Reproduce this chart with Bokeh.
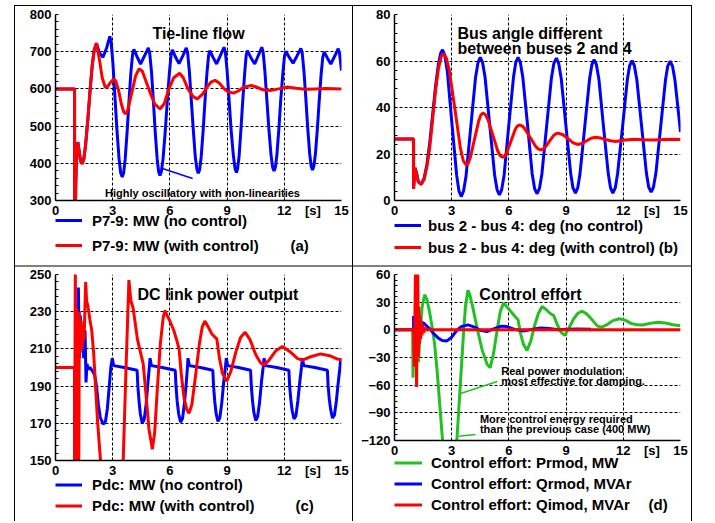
from bokeh.plotting import figure
from bokeh.models import Range1d, FixedTicker, Legend, LegendItem, Label
from bokeh.layouts import column, row
from bokeh.embed import file_html
from bokeh.resources import INLINE

FONT = "Liberation Sans"
BLUE = "#0000ff"
RED = "#ff0000"
GREEN = "#22c022"
NAN = float("nan")

# ---------------- axes / tick labels ----------------
x_ticks = [0, 3, 6, 9, 12, 15]
x_unit_pos = 13.5
x_unit_label = "[s]"
ticks_a = [300, 400, 500, 600, 700, 800]
ticks_b = [0, 20, 40, 60, 80]
ticks_c = [150, 170, 190, 210, 230, 250]
ticks_d = [-120, -90, -60, -30, 0, 30, 60]

# ---------------- (a) tie-line flow ----------------
ta_nc = [0, 1.0, 1.0, 1.06, 1.12, 1.17, 1.25, 1.32, 1.4, 1.48, 1.58, 1.7, 1.82, 1.93, 2.03, 2.15, 2.3, 2.49, 2.68, 2.85, 2.92, 3.01, 3.11, 3.22, 3.33, 3.42, 3.5,
         3.57, 3.65, 3.75, 3.85, 3.95, 4.04, 4.11, 4.28, 4.46, 4.66, 4.87, 4.94, 5.03, 5.13, 5.23, 5.33, 5.41, 5.48,
         5.55, 5.64, 5.75, 5.86, 5.97, 6.06, 6.13, 6.3, 6.48, 6.67, 6.86, 6.93, 7.02, 7.12, 7.23, 7.33, 7.42, 7.49,
         7.56, 7.64, 7.74, 7.84, 7.94, 8.03, 8.09, 8.27, 8.45, 8.64, 8.84, 8.91, 9.0, 9.1, 9.21, 9.33, 9.42, 9.49,
         9.55, 9.63, 9.72, 9.82, 9.92, 10.0, 10.06, 10.25, 10.45, 10.63, 10.82, 10.89, 10.98, 11.08, 11.19, 11.3, 11.39, 11.46,
         11.53, 11.61, 11.71, 11.81, 11.92, 12.01, 12.08, 12.27, 12.46, 12.66, 12.87, 12.94, 13.03, 13.13, 13.23, 13.33, 13.41, 13.48,
         13.55, 13.63, 13.73, 13.83, 13.93, 14.02, 14.09, 14.27, 14.44, 14.63, 14.83, 14.9, 15.0]
va_nc = [600, 600, 285, 350, 430, 457, 430, 405, 399, 410, 450, 520, 600, 665, 705, 723, 697, 685, 710, 741, 726, 670, 585, 492, 414, 374, 363,
         373, 409, 480, 564, 642, 692, 706, 686, 667, 688, 710, 696, 649, 571, 484, 413, 377, 367,
         377, 412, 482, 565, 641, 691, 705, 685, 668, 688, 710, 697, 647, 571, 488, 418, 383, 373,
         383, 417, 486, 567, 641, 690, 703, 684, 667, 689, 712, 699, 649, 573, 490, 420, 385, 375,
         385, 419, 487, 568, 641, 690, 703, 684, 667, 689, 712, 699, 649, 574, 493, 424, 389, 379,
         389, 422, 489, 568, 640, 688, 701, 684, 669, 688, 709, 696, 648, 574, 494, 426, 392, 382,
         392, 424, 490, 568, 639, 686, 699, 682, 667, 687, 708, 695, 649]
ta_wc = [0, 1.0, 1.0, 1.05, 1.1, 1.17, 1.25, 1.32, 1.4, 1.48, 1.58, 1.7, 1.82, 1.93, 2.03, 2.15, 2.3, 2.45, 2.6, 2.68,
         2.85, 3.05, 3.15, 3.3, 3.45, 3.58, 3.68, 3.8, 4.0, 4.2, 4.38, 4.55, 4.75, 5.0, 5.2, 5.48, 5.7, 5.95, 6.2, 6.51,
         6.7, 6.95, 7.2, 7.44, 7.7, 7.95, 8.15, 8.37, 8.6, 8.85, 9.1, 9.36, 9.6, 9.85, 10.27, 10.55, 10.85, 11.32, 11.7, 12.16,
         12.6, 13.1, 13.6, 14.2, 15.0]
va_wc = [600, 600, 285, 290, 420, 457, 430, 405, 399, 410, 450, 520, 600, 665, 705, 723, 680, 630, 606, 603,
         615, 627, 622, 598, 560, 538, 533, 545, 590, 635, 654, 648, 620, 585, 560, 546, 560, 600, 630, 642,
         630, 600, 580, 573, 585, 605, 618, 623, 615, 600, 591, 589, 595, 604, 609, 605, 598, 596, 600, 605,
         602, 599, 600, 601, 600]

# ---------------- (b) bus angle ----------------
tb_nc = [0, 1.0, 1.0, 1.08, 1.15, 1.25, 1.4, 1.55, 1.7, 1.85, 2.0, 2.15, 2.3, 2.42, 2.52,
         2.64, 2.77, 3.01, 3.26, 3.38, 3.5,
         3.62, 3.75, 4.0, 4.25, 4.38, 4.5,
         4.62, 4.75, 5.0, 5.25, 5.38, 5.5,
         5.62, 5.75, 5.99, 6.24, 6.36, 6.48,
         6.6, 6.73, 6.98, 7.22, 7.35, 7.47,
         7.6, 7.73, 7.98, 8.23, 8.36, 8.49,
         8.61, 8.74, 8.99, 9.24, 9.36, 9.49,
         9.61, 9.73, 9.98, 10.23, 10.35, 10.47,
         10.59, 10.72, 10.96, 11.21, 11.33, 11.45,
         11.58, 11.7, 11.96, 12.21, 12.33, 12.46,
         12.58, 12.71, 12.96, 13.21, 13.33, 13.46,
         13.58, 13.71, 13.96, 14.21, 14.33, 14.46,
         14.58, 14.71, 14.85, 15.0]
vb_nc = [26.5, 26.5, 5, 14, 12, 8, 7, 9.5, 15.5, 25, 37, 49, 58.5, 63.3, 64.8,
         62.4, 55.6, 33.3, 10.9, 4.1, 1.7,
         4.0, 10.4, 31.7, 52.9, 59.3, 61.6,
         59.4, 53.0, 32.0, 11.0, 4.6, 2.4,
         4.6, 11.0, 32.0, 53.0, 59.4, 61.6,
         59.4, 53.0, 32.3, 11.5, 5.1, 2.9,
         5.1, 11.4, 32.1, 52.7, 59.0, 61.2,
         59.0, 52.7, 32.2, 11.7, 5.4, 3.2,
         5.4, 11.6, 31.9, 52.2, 58.4, 60.6,
         58.4, 52.2, 31.9, 11.6, 5.4, 3.2,
         5.4, 11.5, 31.7, 51.9, 58.0, 60.2,
         58.0, 51.9, 31.9, 11.9, 5.8, 3.6,
         5.7, 11.8, 31.8, 51.7, 57.8, 59.9,
         57.8, 51.7, 41, 29.4]
tb_wc = [0, 1.0, 1.0, 1.08, 1.15, 1.25, 1.4, 1.55, 1.7, 1.85, 2.0, 2.15, 2.3, 2.45, 2.57,
         2.72, 2.87, 3.17, 3.46, 3.61, 3.76,
         3.87, 3.98, 4.2, 4.42, 4.53, 4.64,
         4.77, 4.9, 5.16, 5.41, 5.54, 5.67,
         5.78, 5.89, 6.11, 6.33, 6.44, 6.55,
         6.69, 6.83, 7.11, 7.39, 7.53, 7.67,
         7.78, 7.9, 8.12, 8.35, 8.47, 8.58,
         8.84, 9.1, 9.37, 9.63,
         9.86, 10.08, 10.31, 10.54,
         10.8, 11.06, 11.33, 11.59,
         12.1, 12.6, 13.1, 13.6, 14.1, 14.6, 15.0]
vb_wc = [26.5, 26.5, 5, 14, 12, 8, 7, 9, 14.5, 23, 35, 47, 56.5, 62, 63.1,
         61.3, 56.1, 39.2, 22.3, 17.1, 15.3,
         16.1, 18.6, 26.5, 34.3, 36.8, 37.6,
         36.9, 34.8, 28.1, 21.4, 19.3, 18.6,
         19.1, 20.6, 25.6, 30.5, 32.0, 32.5,
         32.1, 30.9, 27.2, 23.4, 22.2, 21.8,
         22.1, 22.9, 25.4, 28.0, 28.7, 29.0,
         28.3, 26.6, 24.8, 24.1,
         24.6, 25.7, 26.8, 27.2,
         26.9, 26.3, 25.7, 25.4,
         26.0, 26.3, 26.1, 26.0, 26.2, 26.3, 26.2]

# ---------------- (c) DC link power ----------------
tc_nc = [0, 1.0, 1.0, 1.05, 1.1, 1.15, 1.2, 1.25, 1.3, 1.35, 1.4, 1.48, 1.55, 1.6, 1.65, 1.72, 1.8, 1.95, 2.05, 2.15,
         2.25, 2.35, 2.5, 2.62, 2.72, 2.82, 2.9, 2.98,
         3.05, 3.6, 4.28, 4.32, 4.38, 4.45, 4.55, 4.65, 4.75, 4.85, 4.92, 4.96,
         5.03, 5.6, 6.28, 6.32, 6.38, 6.46, 6.56, 6.66, 6.76, 6.86, 6.92, 6.95,
         7.02, 7.6, 8.25, 8.29, 8.35, 8.42, 8.52, 8.62, 8.72, 8.83, 8.91, 8.96,
         9.03, 9.6, 10.23, 10.27, 10.33, 10.4, 10.5, 10.6, 10.7, 10.81, 10.89, 10.94,
         11.01, 11.6, 12.24, 12.28, 12.34, 12.41, 12.51, 12.61, 12.71, 12.82, 12.9, 12.95,
         13.02, 13.6, 14.26, 14.3, 14.36, 14.43, 14.53, 14.63, 14.73, 14.84, 14.92, 14.96, 15.0]
vc_nc = [200, 200, 140, 180, 215, 175, 243, 205, 228, 212, 222, 205, 220, 192, 202, 199, 200, 198, 196, 190,
         180, 173, 169.5, 171, 178, 190, 200, 205,
         201, 200, 198.5, 190, 182, 175, 170, 172, 180, 192, 200, 205,
         201, 200, 198.5, 190, 182, 175, 170.6, 172.5, 180.5, 192, 200, 205,
         201, 200, 198.5, 190, 182, 175.5, 171, 173, 181, 193, 200, 205,
         201, 200, 198.5, 190, 182.5, 176, 171.5, 173.5, 181, 193, 200, 205,
         201, 200, 198.5, 190, 183, 177, 172.4, 174, 182, 193, 200, 205,
         201, 200, 198.5, 190, 183, 177.5, 172.8, 174.5, 182, 193, 200, 205, 201]
tc_wc = [0, 1.0, 1.0, 1.04, 1.07, 1.1, 1.13, 1.16, 1.19, 1.22, 1.25, 1.3, 1.35, 1.4, 1.45, 1.5, 1.58, 1.63, 1.7, 1.8,
         1.9, 2.0, 2.1, 2.2, 2.3, 2.36, 2.5, 3.0, 3.4, 3.55, 3.7, 3.85, 3.95, 4.07, 4.3, 4.6, 4.75, 4.9, 5.08, 5.2,
         5.35, 5.5, 5.65, 5.74, 5.85, 6.0, 6.2, 6.35, 6.48, 6.6, 6.75, 6.9, 7.0, 7.15, 7.35, 7.55, 7.7, 7.83, 8.0, 8.2,
         8.46, 8.6, 8.75, 8.98, 9.2, 9.45, 9.7, 9.94, 10.2, 10.5, 10.75, 10.94, 11.2, 11.55, 11.9, 12.3, 12.7, 12.95, 13.3, 13.9,
         14.4, 14.8, 15.0]
vc_wc = [200, 200, 140, 255, 140, 232, 150, 228, 205, 145, 230, 208, 225, 210, 222, 215, 246, 236, 233, 226,
         220, 208, 190, 172, 158, 150, 125, 110, 130, 150, 200, 247, 236, 232, 215, 202, 185, 167, 156, 165,
         190, 213, 227, 230.6, 228, 225, 220, 215, 210, 196, 183, 177, 175.4, 180, 196, 213, 222, 225, 222, 218,
         215.4, 205, 197, 192.6, 198, 208, 216, 219, 215, 207, 202.5, 201.4, 204, 209, 211.3, 208.5, 204.8, 204, 205.5, 207.3,
         206.3, 204.5, 204]

# ---------------- (d) control effort ----------------
td_pr = [0, 0.95, 0.97, 1.0, 1.05, 1.1, 1.15, 1.2, 1.26, 1.35, 1.45, 1.58, 1.7, 1.85, 2.0, 2.1, 2.25, 2.4, 2.52, 2.7,
         2.9, 3.1, 3.27, 3.45, 3.6, 3.72, 3.85, 3.95, 4.1, 4.35, 4.6, 4.85, 5.02, 5.2, 5.4, 5.55, 5.72, 5.85, 6.1, 6.3,
         6.48, 6.6, 6.75, 6.95, 7.15, 7.35, 7.55, 7.74, 7.95, 8.15, 8.35, 8.55, 8.75, 8.93, 9.15, 9.4, 9.62, 9.84, 10.1, 10.4,
         10.65, 10.85, 11.1, 11.45, 11.8, 12.1, 12.4, 12.7, 13.0, 13.4, 13.8, 14.2, 14.6, 15.0]
vd_pr = [0, 0, -52, -20, 5, -30, 0, -25, -35, 0, 25, 38, 33, 18, 0, -15, -48, -88, -120, -160,
         -175, -160, -120, -60, -10, 25, 43, 38, 25, 0, -22, -37, -41, -25, 2, 20, 29, 26, 20, 15,
         10.8, -3, -15, -22.4, -12, 5, 18, 25.3, 22, 18, 15.5, 5, -3, -6.1, 2, 12, 18, 20.2, 17, 10,
         4, 2.9, 5, 10, 12, 10.5, 7, 5.4, 5.2, 7, 8.3, 7.5, 5.5, 4.5]
td_qr = [0, 1.0, 1.0, 1.03, 1.06, 1.1, 1.15, 1.2, 1.3, 1.4, 1.5, 1.65, 1.85, 2.05, 2.3, 2.5, 2.75, 3.0, 3.25, 3.5,
         3.85, 4.2, 4.5, 4.85, 5.2, 5.6, 5.9, 6.3, 6.77, 7.2, 7.65, 8.1, 8.6, 9.1, 9.6, 10.3]
vd_qr = [0, 0, 15, 0, 12, 3, 10, 4, 9, 6, 8, 5, 1, -4, -9, -11.5, -12, -8, -1, 3.5,
         5.4, 3, -0.5, -1.8, 1, 4, 3.5, 0.5, -1.4, 0.5, 2, 1.5, 0, 0.5, 1, 0.5]
td_qi = [0, 1.0, 1.04, 1.08, 1.1, 1.13, 1.16, 1.19, 1.22, 1.25, 1.28, 1.31, 1.34, 1.37, 1.4, 1.44, 1.48, 1.53, 1.6, 1.7, 15.0]
vd_qi = [0, 0, -40, 30, 65, -20, -62, 20, 65, -30, 25, -15, 15, -10, 10, -6, 5, -3, 2, 0, 0]

# annotation pointer lines (data coordinates)
ptr_a_t = [5.61, 7.19]
ptr_a_v = [386, 359]
ptr_d1_t = [3.46, 5.39]
ptr_d1_v = [-69, -56]
ptr_d2_t = [3.37, 4.25]
ptr_d2_v = [-115.4, -113.5]

# panel box lines (CSS inset shadows; first listed is painted on top)
SH_A = ("inset 14px 0 0 0 #ffffff, inset 0 5px 0 0 #ffffff, inset 15px 0 0 0 #000000, "
        "inset 0 6px 0 0 #000000, inset -1px 0 0 0 #000000, inset 0 -1px 0 0 #808080")
SH_B = ("inset 0 5px 0 0 #ffffff, inset -1px 0 0 0 #000000, inset 0 6px 0 0 #000000, "
        "inset 0 -1px 0 0 #808080")
SH_C = ("inset 14px 0 0 0 #ffffff, inset 15px 0 0 0 #000000, inset -1px 0 0 0 #000000, "
        "inset 0 1px 0 0 #808080")
SH_D = "inset -1px 0 0 0 #000000, inset 0 1px 0 0 #808080"


def make_panel(width, height, left, right, top, bottom, y_ticks):
    p = figure(width=width, height=height,
               x_range=Range1d(0, 15), y_range=Range1d(y_ticks[0], y_ticks[-1]),
               output_backend="svg", toolbar_location=None,
               min_border_left=left, min_border_right=right,
               min_border_top=top, min_border_bottom=bottom)
    p.border_fill_color = None
    p.background_fill_color = "white"
    p.outline_line_color = None
    p.xaxis.ticker = FixedTicker(ticks=x_ticks + [x_unit_pos])
    p.xaxis.major_label_overrides = {x_unit_pos: x_unit_label}
    p.xgrid.ticker = FixedTicker(ticks=x_ticks)
    step = y_ticks[1] - y_ticks[0]
    minors = [y_ticks[0] + step * k / 5 for k in range(5 * (len(y_ticks) - 1) + 1)]
    p.yaxis.ticker = FixedTicker(ticks=y_ticks, minor_ticks=minors)
    p.ygrid.ticker = FixedTicker(ticks=y_ticks)
    p.grid.grid_line_color = "black"
    p.grid.grid_line_dash = "3 2"
    p.grid.grid_line_width = 1
    p.axis.axis_line_color = "black"
    p.axis.axis_line_width = 1.5
    p.axis.major_tick_in = 0
    p.axis.major_tick_out = 0
    p.yaxis.minor_tick_in = 3
    p.yaxis.minor_tick_out = 0
    p.yaxis.minor_tick_line_color = "black"
    p.xaxis.minor_tick_in = 0
    p.xaxis.minor_tick_out = 0
    p.axis.major_label_text_font = FONT
    p.axis.major_label_text_font_style = "bold"
    p.axis.major_label_text_font_size = "13px"
    p.axis.major_label_text_color = "black"
    p.yaxis.major_label_standoff = 4
    p.xaxis.major_label_standoff = 2
    return p


def make_legend_fig(width, height, left, right, overlap, entries, vy, gw, gh, spacing, standoff,
                    tag=None, tag_xy=None):
    # legend strip; its frame is aligned with the plot frame above (left .. width-right)
    f = figure(width=width, height=height, x_range=Range1d(left, width - right), y_range=Range1d(0, height),
               output_backend="svg", toolbar_location=None, x_axis_type=None, y_axis_type=None,
               min_border_left=left, min_border_right=right, min_border_top=0, min_border_bottom=0,
               margin=(-overlap, 0, 0, 0))
    f.border_fill_color = None
    f.background_fill_color = None
    f.outline_line_color = None
    f.grid.visible = False
    items = []
    for text, color in entries:
        # legend proxy renderer (no visible mark of its own)
        r = f.line([NAN], [NAN], line_color=color, line_width=3)
        items.append(LegendItem(label=text, renderers=[r]))
    leg = Legend(items=items, location=(0, vy), orientation="vertical",
                 glyph_width=gw, glyph_height=gh, label_height=gh,
                 spacing=spacing, padding=0, margin=0, label_standoff=standoff,
                 border_line_color=None, background_fill_alpha=0,
                 label_text_font=FONT, label_text_font_style="bold",
                 label_text_font_size="15px", label_text_color="black")
    f.add_layout(leg)
    if tag is not None:
        f.add_layout(Label(x=tag_xy[0], y=tag_xy[1], text=tag, text_font=FONT, text_font_style="bold",
                           text_font_size="15px", text_baseline="middle", text_color="black"))
    return f


def label(p, x, y, text, size="16px", align="left", baseline="alphabetic"):
    p.add_layout(Label(x=x, y=y, text=text, text_font=FONT, text_font_style="bold",
                       text_font_size=size, text_align=align, text_baseline=baseline,
                       text_color="black"))


LW = 3

# (a)
pa = make_panel(353, 220, 55, 12, 14, 20, ticks_a)
pa.line(ta_nc, va_nc, line_color=BLUE, line_width=LW)
pa.line(ta_wc, va_wc, line_color=RED, line_width=LW)
pa.line(ptr_a_t, ptr_a_v, line_color=BLUE, line_width=1.5)
label(pa, 7.5, 750, "Tie-line flow", align="center")
label(pa, 7.71, 320, "Highly oscillatory with non-linearities", size="11px", align="center")
la = make_legend_fig(353, 60, 55, 12, 14, [("P7-9: MW (no control)", BLUE), ("P7-9: MW (with control)", RED)],
                     10, 27, 22, 3, 10, "(a)", (290, 21))

# (b)
pb = make_panel(339, 220, 41, 12, 14, 20, ticks_b)
pb.line(tb_nc, vb_nc, line_color=BLUE, line_width=LW)
pb.line(tb_wc, vb_wc, line_color=RED, line_width=LW)
label(pb, 3.3, 72, "Bus angle different")
label(pb, 3.3, 65.5, "between buses 2 and 4")
lb = make_legend_fig(339, 60, 41, 12, 14, [("bus 2 - bus 4: deg (no control)", BLUE),
                                           ("bus 2 - bus 4: deg (with control) (b)", RED)],
                     8, 27, 22, 0, 7)

# (c)
pc = make_panel(353, 214, 55, 12, 8, 20, ticks_c)
pc.line(tc_nc, vc_nc, line_color=BLUE, line_width=LW)
pc.line(tc_wc, vc_wc, line_color=RED, line_width=LW)
label(pc, 8.52, 239, "DC link power output", align="center")
lc = make_legend_fig(353, 55, 55, 12, 14, [("Pdc: MW (no control)", BLUE), ("Pdc: MW (with control)", RED)],
                     5.5, 27, 21, 0, 10, "(c)", (295, 16))

# (d)
pd = make_panel(339, 194, 41, 12, 8, 20, ticks_d)
pd.line(td_pr, vd_pr, line_color=GREEN, line_width=LW)
pd.line(td_qr, vd_qr, line_color=BLUE, line_width=LW)
pd.line(td_qi, vd_qi, line_color=RED, line_width=LW)
pd.line(ptr_d1_t, ptr_d1_v, line_color=GREEN, line_width=1.5)
pd.line(ptr_d2_t, ptr_d2_v, line_color=GREEN, line_width=1.5)
label(pd, 7.13, 38.8, "Control effort", align="center")
label(pd, 5.6, -44.6, "Real power modulation", size="11px")
label(pd, 5.6, -56, "most effective for damping.", size="11px")
label(pd, 4.48, -96.6, "More control energy required", size="11px")
label(pd, 4.48, -108, "than the previous case (400 MW)", size="11px")
ld = make_legend_fig(339, 75, 41, 12, 14, [("Control effort: Prmod, MW", GREEN),
                                           ("Control effort: Qrmod, MVAr", BLUE),
                                           ("Control effort: Qimod, MVAr", RED)],
                     6.5, 28, 21, 0, 9, "(d)", (295, 17))

colA = column(pa, la, styles={"box-shadow": SH_A})
colB = column(pb, lb, styles={"box-shadow": SH_B})
colC = column(pc, lc, styles={"box-shadow": SH_C})
colD = column(pd, ld, styles={"box-shadow": SH_D})
layout = column(row(colA, colB), row(colC, colD))
open("out.html", "w").write(file_html(layout, INLINE))
